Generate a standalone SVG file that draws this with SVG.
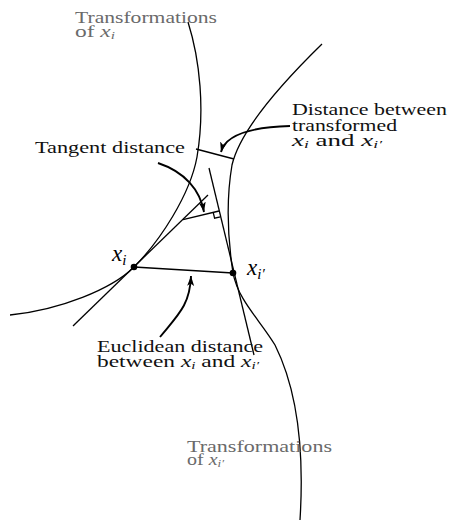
<svg xmlns="http://www.w3.org/2000/svg" width="449" height="524" viewBox="0 0 449 524">
<style>
.t{font-family:"Liberation Serif","Times New Roman",serif;font-size:17px;fill:#111}
.g{fill:#6a6a6a}
.m{font-style:italic}
.s{font-style:italic;font-size:11px}
.big{font-family:"Liberation Serif","Times New Roman",serif;font-size:23px;font-style:italic;fill:#000}
.bs{font-size:15px}
.c{fill:none;stroke:#000;stroke-width:1.3}
.a{fill:none;stroke:#000;stroke-width:1.9}
</style>
<defs>
<marker id="ah" markerUnits="userSpaceOnUse" markerWidth="12" markerHeight="8" refX="10" refY="3.5" orient="auto">
<path d="M0,0 L10,3.5 L0,7 L2.5,3.5 z" fill="#000"/>
</marker>
</defs>
<rect width="449" height="524" fill="#fff"/>
<g id="curves">
<path class="c" d="M188,22 C200,60 205,110 197,157 C190,195 160,241 134,267 C112,289 60,310 10,315"/>
<path class="c" d="M322,44 C280,85 240,130 232,165 C226,200 228,240 233,273 C238,300 260,320 275,345 C295,385 305,440 300,520"/>
<line class="c" x1="73" y1="326" x2="208" y2="195"/>
<line class="c" x1="209" y1="168" x2="254" y2="355"/>
<line class="c" x1="134" y1="267" x2="233" y2="273"/>
<line class="c" x1="196" y1="149" x2="234" y2="159"/>
<line class="c" x1="183" y1="219.7" x2="219" y2="211"/>
<path class="c" d="M213.2,212.4 L214.6,218.2 L220.4,216.8" stroke-width="1.1"/>
</g>
<g id="point-xi">
<circle cx="134" cy="267" r="3.3" fill="#000"/>
<text class="big" x="112" y="261">x<tspan class="bs" dy="4">i</tspan></text>
</g>
<g id="point-xip">
<circle cx="233" cy="273" r="3.3" fill="#000"/>
<text class="big" x="247" y="275">x<tspan class="bs" dy="4">i′</tspan></text>
</g>
<g id="connectors">
<path class="a" d="M158,163 C185,172 200,190 204,212" marker-end="url(#ah)"/>
<path class="a" d="M290,126 C255,127 226,133 221,152" marker-end="url(#ah)"/>
<path class="a" d="M160,337 C178,315 190,305 191,276" marker-end="url(#ah)"/>
</g>
<g id="label-trans-xi">
<text class="t g" x="75" y="23" textLength="142" lengthAdjust="spacingAndGlyphs">Transformations</text>
<text class="t g" x="75" y="37" textLength="40" lengthAdjust="spacingAndGlyphs">of <tspan class="m">x</tspan><tspan class="s" dy="2">i</tspan></text>
</g>
<g id="label-trans-xip">
<text class="t g" x="187" y="452" textLength="145" lengthAdjust="spacingAndGlyphs">Transformations</text>
<text class="t g" x="187" y="465" textLength="37" lengthAdjust="spacingAndGlyphs">of <tspan class="m">x</tspan><tspan class="s" dy="2">i′</tspan></text>
</g>
<g id="label-transformed">
<text class="t" x="292" y="115" textLength="155" lengthAdjust="spacingAndGlyphs">Distance between</text>
<text class="t" x="292" y="131" textLength="105" lengthAdjust="spacingAndGlyphs">transformed</text>
<text class="t" x="292" y="146" textLength="90" lengthAdjust="spacingAndGlyphs"><tspan class="m">x</tspan><tspan class="s" dy="2">i</tspan><tspan dy="-2"> and </tspan><tspan class="m">x</tspan><tspan class="s" dy="2">i′</tspan></text>
</g>
<g id="label-tangent">
<text class="t" x="35" y="153" textLength="150" lengthAdjust="spacingAndGlyphs">Tangent distance</text>
</g>
<g id="label-euclid">
<text class="t" x="97" y="352" textLength="166" lengthAdjust="spacingAndGlyphs">Euclidean distance</text>
<text class="t" x="97" y="367" textLength="162" lengthAdjust="spacingAndGlyphs">between <tspan class="m">x</tspan><tspan class="s" dy="2">i</tspan><tspan dy="-2"> and </tspan><tspan class="m">x</tspan><tspan class="s" dy="2">i′</tspan></text>
</g>
</svg>
